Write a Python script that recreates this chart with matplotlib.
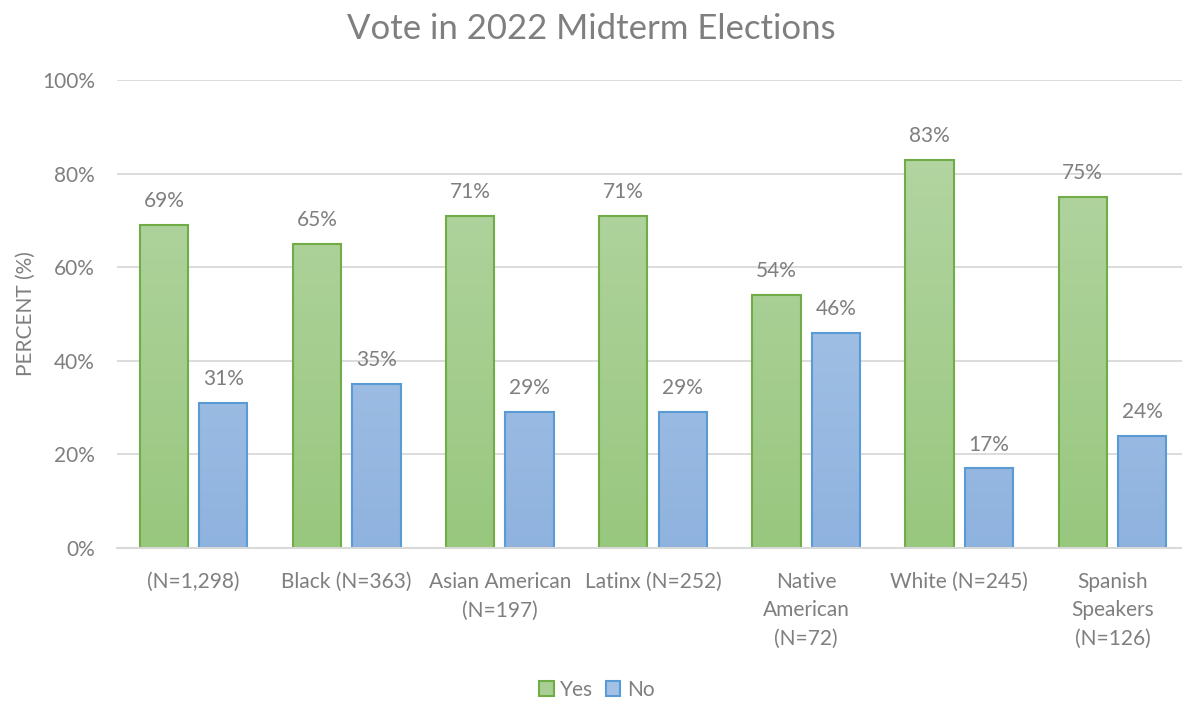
import numpy as np
import matplotlib.pyplot as plt
from matplotlib.colors import LinearSegmentedColormap
from matplotlib.patches import Patch

# --- Data ---
groups = ['(N=1,298)', 'Black (N=363)', 'Asian American\n(N=197)', 'Latinx (N=252)',
          'Native\nAmerican\n(N=72)', 'White (N=245)', 'Spanish\nSpeakers\n(N=126)']
yes_pct = [69, 65, 71, 71, 54, 83, 75]
no_pct = [31, 35, 29, 29, 46, 17, 24]

# --- Style ---
TEXT = '#7f7f7f'
GRID = '#d9d9d9'
GREEN_TOP, GREEN_BOT, GREEN_EDGE = '#b8d7a8', '#98c77e', '#70ad47'
BLUE_TOP, BLUE_BOT, BLUE_EDGE = '#b2cbe9', '#8fb3df', '#5b9bd5'
BAR_W = 0.316
OFFSET = 0.194
FS = 15

plt.rcParams['font.family'] = ['Lato', 'DejaVu Sans']

fig = plt.figure(figsize=(11.82, 7.02), dpi=100)
# plot area runs slightly past the right edge of the canvas
ax = fig.add_axes([117 / 1182, 1 - 548 / 702, 1072 / 1182, 468 / 702])

x = np.arange(len(groups))
grad = np.linspace(0, 1, 256).reshape(-1, 1)


def gradient_bars(xs, vals, top, bot, edge):
    cmap = LinearSegmentedColormap.from_list('g', [bot, top])
    bars = ax.bar(xs, vals, BAR_W, facecolor='none', edgecolor=edge, linewidth=1.5, zorder=3)
    for b in bars:
        x0, w = b.get_x(), b.get_width()
        # gradient runs from the bottom of the axis up to the top of the full scale
        im = ax.imshow(grad, cmap=cmap, aspect='auto', origin='lower',
                       extent=(x0, x0 + w, 0, 100), zorder=2)
        im.set_clip_path(b)
    return bars


yes_bars = gradient_bars(x - OFFSET, yes_pct, GREEN_TOP, GREEN_BOT, GREEN_EDGE)
no_bars = gradient_bars(x + OFFSET, no_pct, BLUE_TOP, BLUE_BOT, BLUE_EDGE)

for bars, vals in ((yes_bars, yes_pct), (no_bars, no_pct)):
    for b, v in zip(bars, vals):
        ax.annotate(f'{v}%', (b.get_x() + b.get_width() / 2, v), xytext=(0, 10),
                    textcoords='offset points', ha='center', va='bottom',
                    fontsize=FS, color=TEXT)

ax.set_xlim(-0.5, len(groups) - 0.5)
ax.set_ylim(0, 100)
ax.set_yticks(range(0, 101, 20))
ax.set_yticklabels([f'{t}%' for t in range(0, 101, 20)])
ax.set_xticks(x)
ax.set_xticklabels(groups, linespacing=1.55)
ax.tick_params(axis='both', length=0, labelsize=FS, labelcolor=TEXT)
ax.tick_params(axis='y', pad=16)
ax.tick_params(axis='x', pad=17)

ax.yaxis.grid(True, color=GRID, linewidth=1.3, zorder=0)
ax.set_axisbelow(True)
for s in ('top', 'right', 'left'):
    ax.spines[s].set_visible(False)
ax.spines['bottom'].set_color(GRID)
ax.spines['bottom'].set_linewidth(1.5)
ax.spines['bottom'].set_zorder(4)

ax.set_ylabel('PERCENT (%)', fontsize=FS, color=TEXT, labelpad=4)
fig.suptitle('Vote in 2022 Midterm Elections', fontsize=25, color=TEXT, y=0.982)

handles = [Patch(facecolor='#a9cf95', edgecolor=GREEN_EDGE, linewidth=1.5, label='Yes'),
           Patch(facecolor='#a3c1e5', edgecolor=BLUE_EDGE, linewidth=1.5, label='No')]
fig.legend(handles=handles, loc='center', bbox_to_anchor=(0.505, 1 - 690 / 702), ncol=2,
           frameon=False, fontsize=FS, labelcolor=TEXT, handlelength=0.7, handleheight=0.7,
           handletextpad=0.3, columnspacing=0.6)

fig.savefig('out.png', dpi=100)
